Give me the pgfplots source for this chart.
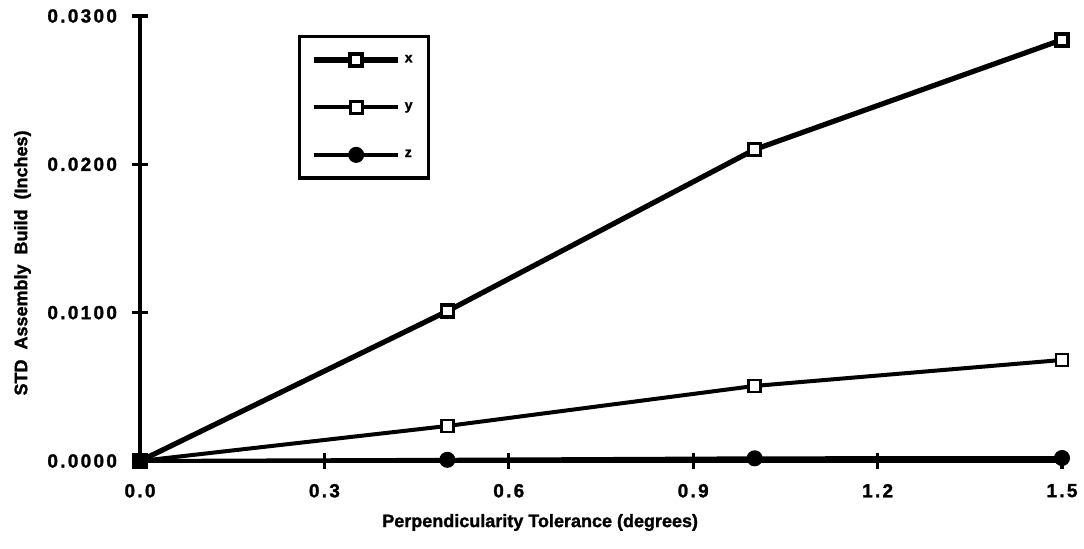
\documentclass[border=0pt]{standalone}
\usepackage{fontspec}
\setmainfont{Liberation Sans}[BoldFeatures={FakeBold=1.5}]
\newfontfamily\tickfont[LetterSpace=12, BoldFeatures={FakeBold=1.5}]{Liberation Sans}
\usepackage{pgfplots}
\pgfplotsset{compat=1.18}
\begin{document}
\begin{tikzpicture}
\path[use as bounding box] (-70pt,-44pt) rectangle (472pt,230.5pt);
\begin{axis}[
  scale only axis, width=461pt, height=222.5pt,
  xmin=0, xmax=1.5, ymin=0, ymax=0.03,
  axis lines=left, axis line style={line width=2pt, -},
  xtick={0,0.3,0.6,0.9,1.2,1.5},
  ytick={0,0.01,0.02,0.03},
  tick align=center, major tick length=8pt,
  tick style={line width=1.6pt, black},
  /pgf/number format/assume math mode=true,
  scaled ticks=false,
  xticklabel style={/pgf/number format/fixed, /pgf/number format/fixed zerofill, /pgf/number format/precision=1, yshift=-4pt},
  yticklabel style={/pgf/number format/fixed, /pgf/number format/fixed zerofill, /pgf/number format/precision=4, xshift=-4pt},
  tick label style={font=\tickfont\bfseries\fontsize{9.5}{11}\selectfont},
  xlabel={Perpendicularity Tolerance (degrees)},
  ylabel={STD\ \ Assembly\ \ Build\ \ (Inches)},
  label style={font=\bfseries\fontsize{9}{11}\selectfont},
  xlabel style={at={(axis description cs:0.434,0)}, anchor=north, yshift=-23pt},
  ylabel style={at={(axis description cs:0,0.445)}, anchor=south, yshift=51pt},
  clip=false,
  legend style={at={(axis cs:0.257,0.0287)}, anchor=north west,
    draw=black, line width=1.6pt, inner xsep=6pt, inner ysep=7pt,
    font=\bfseries\fontsize{7}{8}\selectfont, row sep=14.5pt, cells={anchor=west}},
  legend image code/.code={
    \draw[#1, mark repeat=2, mark phase=2] plot coordinates {(0pt,0pt) (21pt,0pt) (42pt,0pt)};},
]
\addplot[black, line width=2.6pt, mark=square*, mark size=3pt,
  mark options={solid, line width=1.8pt, fill=white}] coordinates {(0,0) (0.5,0.0101) (1.0,0.0210) (1.5,0.0284)};
\addlegendentry{x}
\addplot[black, line width=2pt, mark=square*, mark size=3pt,
  mark options={solid, line width=1.4pt, fill=white}] coordinates {(0,0) (0.5,0.00236) (1.0,0.00506) (1.5,0.00681)};
\addlegendentry{y}
\addplot[black, line width=2pt, mark=*, mark size=3pt] coordinates {(0,0) (0.5,0.00008) (1.0,0.00018) (1.5,0.0002)};
\addlegendentry{z}
\end{axis}
\end{tikzpicture}
\end{document}
